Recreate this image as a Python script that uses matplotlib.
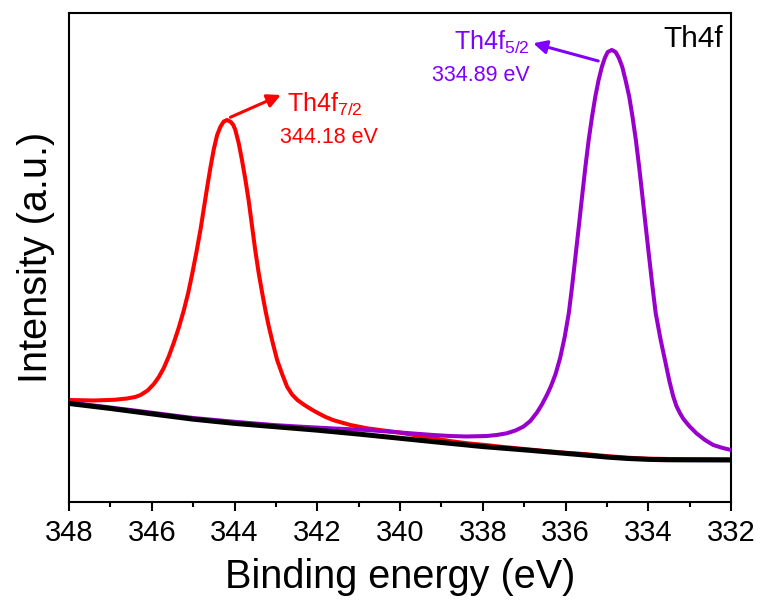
import numpy as np
import matplotlib
matplotlib.use('Agg')
import matplotlib.pyplot as plt
from matplotlib.ticker import MultipleLocator

plt.rcParams['font.family'] = ['Liberation Sans', 'DejaVu Sans']
plt.rcParams['mathtext.fontset'] = 'custom'
plt.rcParams['mathtext.rm'] = 'Liberation Sans'
plt.rcParams['mathtext.it'] = 'Liberation Sans:italic'
plt.rcParams['mathtext.bf'] = 'Liberation Sans:bold'

# Th4f7/2 component
red_ev = [348.00, 347.40, 346.90, 346.60, 346.40, 346.27, 346.10, 345.95, 345.83, 345.71,
          345.59, 345.47, 345.35, 345.23, 345.12, 345.02, 344.92, 344.82, 344.74, 344.66,
          344.58, 344.50, 344.42, 344.34, 344.26, 344.18, 344.09, 344.03, 343.98, 343.90,
          343.82, 343.74, 343.66, 343.58, 343.50, 343.42, 343.33, 343.25, 343.17, 343.07,
          342.97, 342.85, 342.73, 342.61, 342.48, 342.33, 342.17, 342.01, 341.80, 341.61,
          341.20, 340.80, 340.40, 339.99, 339.60, 339.19, 338.80, 338.38, 337.90, 337.50,
          337.00, 336.50, 336.00, 335.50, 335.00, 334.50, 334.00, 333.50, 333.00, 332.50,
          332.00]
red_int = [100.0, 99.5, 100.2, 101.5, 103.0, 105.0, 109.5, 116.0, 123.0, 132.0,
           143.5, 157.0, 172.0, 189.0, 207.0, 226.7, 248.0, 271.0, 292.0, 313.0,
           333.0, 351.0, 365.0, 373.3, 378.5, 380.0, 378.0, 375.0, 370.0, 357.0,
           340.0, 321.0, 300.0, 275.0, 250.0, 228.0, 206.7, 189.0, 173.3, 156.0,
           140.0, 126.0, 113.3, 105.5, 100.0, 95.5, 91.3, 87.5, 83.0, 79.8,
           75.0, 71.7, 69.5, 67.3, 64.5, 61.7, 59.0, 56.7, 54.8, 53.0,
           51.0, 49.0, 47.2, 45.8, 43.9, 42.3, 41.3, 41.0, 40.8, 40.7,
           40.6]

# Th4f5/2 component
pur_ev = [348.00, 347.00, 346.00, 345.00, 344.00, 343.00, 342.40, 341.60, 340.80, 340.00,
          339.20, 338.80, 338.40, 338.18, 337.90, 337.66, 337.42, 337.21, 337.02, 336.85,
          336.69, 336.57, 336.45, 336.35, 336.24, 336.13, 336.02, 335.92, 335.84, 335.76,
          335.68, 335.60, 335.52, 335.44, 335.36, 335.28, 335.20, 335.12, 335.05, 334.98,
          334.88, 334.79, 334.71, 334.63, 334.55, 334.46, 334.38, 334.30, 334.22, 334.14,
          334.06, 333.98, 333.90, 333.82, 333.70, 333.58, 333.49, 333.40, 333.32, 333.23,
          333.15, 333.00, 332.83, 332.63, 332.43, 332.20, 332.00]
pur_int = [97.5, 92.5, 87.3, 82.0, 78.2, 74.8, 73.3, 71.5, 70.0, 67.5,
           65.0, 64.0, 63.5, 63.7, 64.0, 65.0, 66.7, 69.5, 73.3, 79.0,
           87.5, 95.5, 105.0, 114.0, 126.0, 142.0, 163.0, 187.0, 214.0, 243.3,
           273.0, 303.3, 333.0, 360.0, 383.0, 403.3, 420.0, 433.3, 442.0, 448.0,
           450.0, 448.0, 442.0, 433.3, 420.0, 403.3, 383.0, 360.0, 333.0, 303.3,
           273.0, 243.3, 214.0, 186.7, 160.0, 136.7, 119.0, 104.0, 94.0, 86.5,
           81.0, 73.5, 66.5, 60.0, 55.0, 52.0, 50.0]

# background
bg_ev = [348, 347, 346, 345, 344, 343, 342, 341, 340, 339,
         338, 337, 336, 335.5, 335, 334.5, 334, 333.5, 333, 332]
bg_int = [96.5, 91.5, 86.1, 80.8, 76.6, 73.2, 69.8, 65.9, 61.7, 57.5,
          53.4, 50.1, 46.6, 44.8, 42.9, 41.5, 40.6, 40.2, 40.1, 40.0]

peak_72 = 344.18
peak_52 = 334.89

RED = '#ff0000'
PURPLE = '#9900cc'
VIOLET = '#8000ff'

fig = plt.figure(figsize=(7.61, 6.07), dpi=100)
ax = fig.add_axes([0.0907, 0.1735, 0.8699, 0.8043])

ax.plot(red_ev, red_int, color=RED, lw=2.9, solid_joinstyle='round', zorder=2)
ax.plot(pur_ev, pur_int, color=PURPLE, lw=2.9, solid_joinstyle='round', zorder=3)
ax.plot(bg_ev, bg_int, color='black', lw=3.6, solid_joinstyle='round', zorder=4)

ax.set_xlim(348, 332)
ax.set_ylim(-1.7, 486.5)
ax.xaxis.set_major_locator(MultipleLocator(2))
ax.xaxis.set_minor_locator(MultipleLocator(1))
ax.set_yticks([])
ax.tick_params(axis='x', which='major', direction='out', length=6.5, width=1.5,
               labelsize=21, pad=6)
ax.tick_params(axis='x', which='minor', direction='out', length=3.3, width=1.5)
for sp in ax.spines.values():
    sp.set_linewidth(1.5)

ax.set_xlabel('Binding energy (eV)', fontsize=28.5, labelpad=8)
ax.set_ylabel('Intensity (a.u.)', fontsize=28.5, labelpad=10)

# peak labels
ax.annotate('', xy=(342.88, 405), xytext=(344.10, 382.7),
            arrowprops=dict(arrowstyle='-|>', color=RED, lw=2.2,
                            mutation_scale=20, shrinkA=0, shrinkB=0))
ax.text(342.72, 388, r'Th4f$_{\mathrm{7/2}}$', color=RED, fontsize=18,
        ha='left', va='baseline')
ax.text(342.89, 356.7, f'{peak_72:.2f} eV', color=RED, fontsize=15.5,
        ha='left', va='baseline')

ax.annotate('', xy=(336.78, 456.7), xytext=(335.21, 439),
            arrowprops=dict(arrowstyle='-|>', color=VIOLET, lw=2.2,
                            mutation_scale=20, shrinkA=0, shrinkB=0))
ax.text(336.86, 450, r'Th4f$_{\mathrm{5/2}}$', color=VIOLET, fontsize=18,
        ha='right', va='baseline')
ax.text(336.86, 419.3, f'{peak_52:.2f} eV', color=VIOLET, fontsize=15.5,
        ha='right', va='baseline')

ax.text(332.19, 453.3, 'Th4f', color='black', fontsize=21.5,
        ha='right', va='baseline')

fig.savefig('out.png', dpi=100)
